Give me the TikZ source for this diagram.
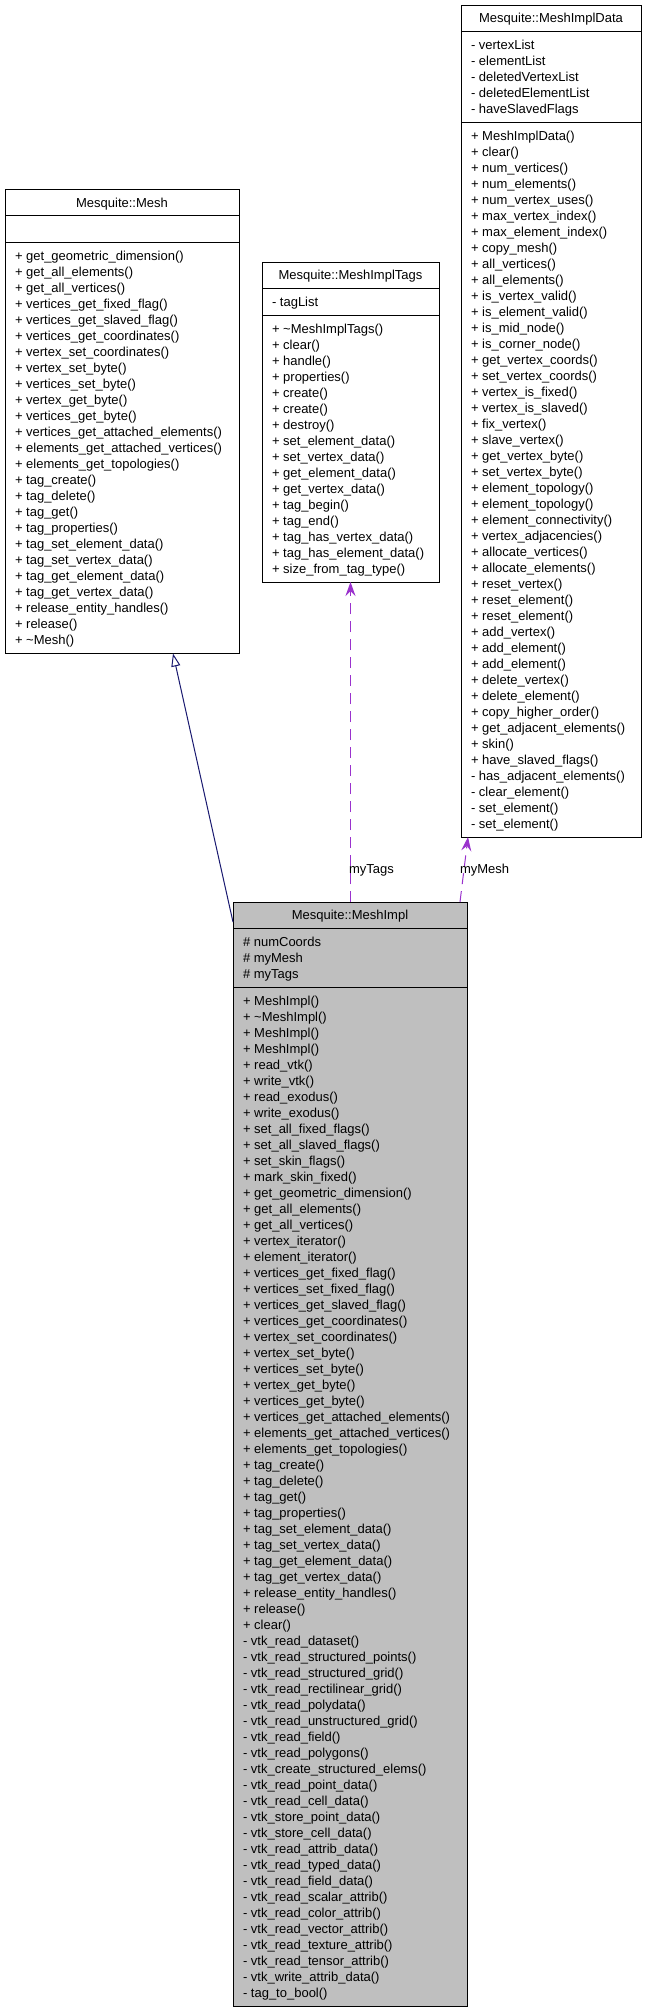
\documentclass[tikz,border=0pt]{standalone}
\usepackage{fontspec}
\setmainfont{Liberation Sans}
\usetikzlibrary{arrows.meta,calc}
\definecolor{inhblue}{HTML}{191970}
\definecolor{usepurple}{HTML}{9A32CD}
\definecolor{implgray}{HTML}{BFBFBF}
\tikzset{
  umltext/.style={font=\fontsize{13}{16}\selectfont, inner sep=0pt, outer sep=0pt, anchor=base west},
  umltitle/.style={font=\fontsize{13}{16}\selectfont, inner sep=0pt, outer sep=0pt, anchor=base},
  umlframe/.style={draw=black, line width=1pt, inner sep=0pt, outer sep=0pt, anchor=north west},
  umlsep/.style={draw=black, line width=1pt},
  inherit/.style={draw=inhblue, line width=1pt, -{Triangle[open,length=13pt,width=9pt]}},
  usage/.style={draw=usepurple, line width=1pt, dash pattern=on 11pt off 7pt, -{Stealth[length=14pt,width=10pt,inset=5pt]}},
  rolelabel/.style={font=\fontsize{13}{16}\selectfont, inner sep=0pt, outer sep=0pt, anchor=base west},
  mesh fill/.style={fill=white},
  tags fill/.style={fill=white},
  data fill/.style={fill=white},
  impl fill/.style={fill=implgray},
}
% #1 name #2 L #3 R #4 T #5 nattr #6 nmeth #7 title #8 attrs #9 methods
\newcommand\classbox[9]{%
  \pgfmathsetmacro\cbA{#4+26}%
  \pgfmathsetmacro\cbB{\cbA+16*max(#5,1)+11}%
  \pgfmathsetmacro\cbC{\cbB+16*#6+11}%
  \node[umlframe, #1 fill, minimum width={(#3-#2)*1pt}, minimum height={(\cbC-#4)*1pt}] (#1) at (#2,#4) {};
  \draw[umlsep] (#2,\cbA) -- (#3,\cbA);
  \draw[umlsep] (#2,\cbB) -- (#3,\cbB);
  \node[umltitle] (#1-title) at ({(#2+#3)/2}, #4+17.5) {#7};
  \ifnum#5>0
    \foreach \t [count=\i] in {#8} {\node[umltext] (#1-a\i) at (#2+10, \cbA+2+16*\i) {\t};}
  \fi
  \foreach \t [count=\i] in {#9} {\node[umltext] (#1-m\i) at (#2+10, \cbB+2+16*\i) {\t};}
}
\begin{document}
\begin{tikzpicture}[x=1pt,y=-1pt]
\fill[white] (0,0) rectangle (645,2011);
\useasboundingbox (0,0) rectangle (645,2011);

\classbox{mesh}{5}{239}{189.5}{0}{25}{Mesquite::Mesh}{}{%
+ get\_geometric\_dimension(), + get\_all\_elements(), + get\_all\_vertices(),
+ vertices\_get\_fixed\_flag(), + vertices\_get\_slaved\_flag(), + vertices\_get\_coordinates(),
+ vertex\_set\_coordinates(), + vertex\_set\_byte(), + vertices\_set\_byte(), + vertex\_get\_byte(),
+ vertices\_get\_byte(), + vertices\_get\_attached\_elements(), + elements\_get\_attached\_vertices(),
+ elements\_get\_topologies(), + tag\_create(), + tag\_delete(), + tag\_get(), + tag\_properties(),
+ tag\_set\_element\_data(), + tag\_set\_vertex\_data(), + tag\_get\_element\_data(),
+ tag\_get\_vertex\_data(), + release\_entity\_handles(), + release(), + \textasciitilde Mesh()}

\classbox{tags}{262}{439}{262}{1}{16}{Mesquite::MeshImplTags}{- tagList}{%
+ \textasciitilde MeshImplTags(), + clear(), + handle(), + properties(), + create(), + create(),
+ destroy(), + set\_element\_data(), + set\_vertex\_data(), + get\_element\_data(),
+ get\_vertex\_data(), + tag\_begin(), + tag\_end(), + tag\_has\_vertex\_data(),
+ tag\_has\_element\_data(), + size\_from\_tag\_type()}

\classbox{data}{461}{641}{5}{5}{44}{Mesquite::MeshImplData}{%
- vertexList, - elementList, - deletedVertexList, - deletedElementList, - haveSlavedFlags}{%
+ MeshImplData(), + clear(), + num\_vertices(), + num\_elements(), + num\_vertex\_uses(),
+ max\_vertex\_index(), + max\_element\_index(), + copy\_mesh(), + all\_vertices(), + all\_elements(),
+ is\_vertex\_valid(), + is\_element\_valid(), + is\_mid\_node(), + is\_corner\_node(),
+ get\_vertex\_coords(), + set\_vertex\_coords(), + vertex\_is\_fixed(), + vertex\_is\_slaved(),
+ fix\_vertex(), + slave\_vertex(), + get\_vertex\_byte(), + set\_vertex\_byte(),
+ element\_topology(), + element\_topology(), + element\_connectivity(), + vertex\_adjacencies(),
+ allocate\_vertices(), + allocate\_elements(), + reset\_vertex(), + reset\_element(),
+ reset\_element(), + add\_vertex(), + add\_element(), + add\_element(), + delete\_vertex(),
+ delete\_element(), + copy\_higher\_order(), + get\_adjacent\_elements(), + skin(),
+ have\_slaved\_flags(), - has\_adjacent\_elements(), - clear\_element(), - set\_element(),
- set\_element()}

\classbox{impl}{233}{467}{902}{3}{63}{Mesquite::MeshImpl}{%
\# numCoords, \# myMesh, \# myTags}{%
+ MeshImpl(), + \textasciitilde MeshImpl(), + MeshImpl(), + MeshImpl(), + read\_vtk(), + write\_vtk(),
+ read\_exodus(), + write\_exodus(), + set\_all\_fixed\_flags(), + set\_all\_slaved\_flags(),
+ set\_skin\_flags(), + mark\_skin\_fixed(), + get\_geometric\_dimension(), + get\_all\_elements(),
+ get\_all\_vertices(), + vertex\_iterator(), + element\_iterator(), + vertices\_get\_fixed\_flag(),
+ vertices\_set\_fixed\_flag(), + vertices\_get\_slaved\_flag(), + vertices\_get\_coordinates(),
+ vertex\_set\_coordinates(), + vertex\_set\_byte(), + vertices\_set\_byte(), + vertex\_get\_byte(),
+ vertices\_get\_byte(), + vertices\_get\_attached\_elements(), + elements\_get\_attached\_vertices(),
+ elements\_get\_topologies(), + tag\_create(), + tag\_delete(), + tag\_get(), + tag\_properties(),
+ tag\_set\_element\_data(), + tag\_set\_vertex\_data(), + tag\_get\_element\_data(),
+ tag\_get\_vertex\_data(), + release\_entity\_handles(), + release(), + clear(),
- vtk\_read\_dataset(), - vtk\_read\_structured\_points(), - vtk\_read\_structured\_grid(),
- vtk\_read\_rectilinear\_grid(), - vtk\_read\_polydata(), - vtk\_read\_unstructured\_grid(),
- vtk\_read\_field(), - vtk\_read\_polygons(), - vtk\_create\_structured\_elems(),
- vtk\_read\_point\_data(), - vtk\_read\_cell\_data(), - vtk\_store\_point\_data(),
- vtk\_store\_cell\_data(), - vtk\_read\_attrib\_data(), - vtk\_read\_typed\_data(),
- vtk\_read\_field\_data(), - vtk\_read\_scalar\_attrib(), - vtk\_read\_color\_attrib(),
- vtk\_read\_vector\_attrib(), - vtk\_read\_texture\_attrib(), - vtk\_read\_tensor\_attrib(),
- vtk\_write\_attrib\_data(), - tag\_to\_bool()}

% connectors
\coordinate (inhFrom) at ($(impl.north west)+(0,20)$);
\coordinate (inhTo) at ($(mesh.south west)+(168,0)$);
\draw[inherit] (inhFrom) -- (inhTo);

\coordinate (tagsFrom) at (impl.north -| tags.south);
\draw[usage] (tagsFrom) -- (tags.south);

\coordinate (dataFrom) at ($(impl.north east)+(-7,0)$);
\coordinate (dataTo) at ($(data.south west)+(7,0)$);
\draw[usage] (dataFrom) -- (dataTo);

\node[rolelabel] (lblTags) at (349,873.5) {myTags};
\node[rolelabel] (lblMesh) at (460,873.5) {myMesh};
\end{tikzpicture}
\end{document}
